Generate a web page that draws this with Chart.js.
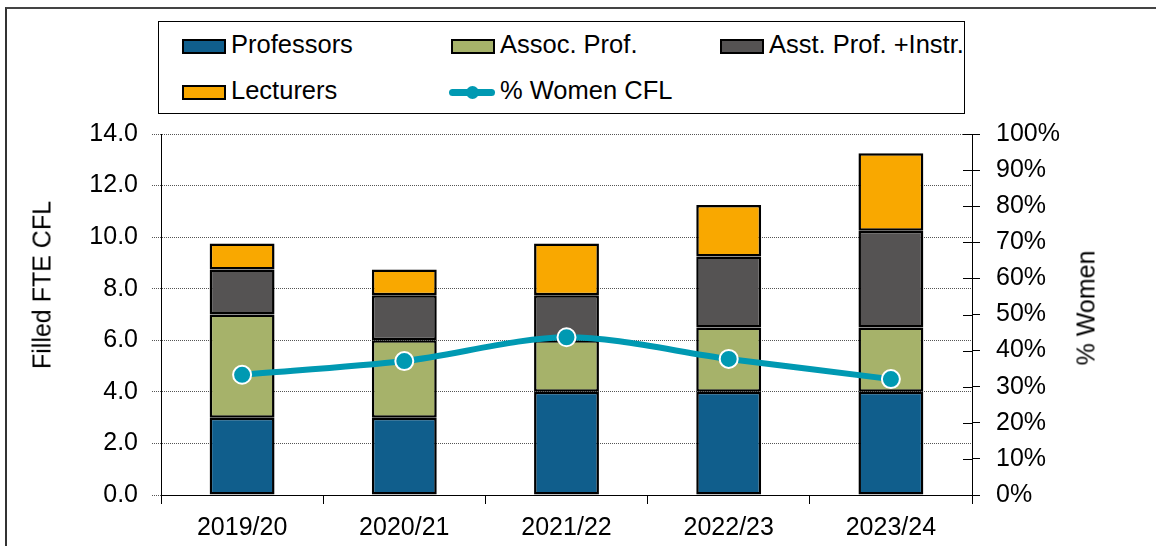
<!DOCTYPE html>
<html>
<head>
<meta charset="utf-8">
<script src="https://cdn.jsdelivr.net/npm/chart.js@4.4.1/dist/chart.umd.min.js"></script>
<style>
  html, body { margin: 0; padding: 0; background: #fff; }
  #wrap { position: relative; width: 1156px; height: 546px; overflow: hidden; font-family: "Liberation Sans", Arial, sans-serif; color: #000; }
  #frame { position: absolute; left: 5px; top: 7px; right: -10px; bottom: -10px; border-left: 2px solid #333; border-top: 2px solid #444; }
  canvas { position: absolute; left: 0; top: 0; }
  #legend { position: absolute; left: 158px; top: 21px; width: 805px; height: 91px; border: 1.5px solid #000; background: #fff; }
  .lg-sw { position: absolute; width: 40px; height: 11px; border: 2px solid #000; }
  .lg-txt { position: absolute; font-size: 25.5px; line-height: 25px; white-space: nowrap; }
  .lg-line { position: absolute; width: 46px; height: 7px; border-radius: 4px; }
  .lg-dot { position: absolute; width: 13px; height: 13px; border-radius: 50%; }
  .ytitle { position: absolute; font-size: 25px; line-height: 25px; white-space: nowrap; transform: translate(-50%, -50%) rotate(-90deg); }
</style>
</head>
<body>
<div id="wrap">
  <div id="frame"></div>
  <canvas id="c" width="1156" height="546"></canvas>
  <div id="legend"></div>
  <div class="ytitle" id="tLeft" style="left:42px; top:285px;">Filled FTE CFL</div>
  <div class="ytitle" id="tRight" style="left:1086px; top:308px;">% Women</div>
</div>
<script>
// ---- data ----
const categories = ['2019/20', '2020/21', '2021/22', '2022/23', '2023/24'];
const professors = [3, 3, 4, 4, 4];
const assocProf  = [4, 3, 2, 2.5, 2.5];
const asstProf   = [1.75, 1.75, 1.75, 2.75, 3.75];
const lecturers  = [1, 1, 2, 2, 3];
const pctWomen   = [33.3, 37.1, 43.7, 37.7, 32.1];

const seriesNames = ['Professors', 'Assoc. Prof.', 'Asst. Prof. +Instr.', 'Lecturers', '% Women CFL'];
const seriesColors = ['#105E8C', '#A6B26A', '#555353', '#F9A800', '#0099B2'];

const leftMin = 0, leftMax = 14, leftStep = 2;
const rightMin = 0, rightMax = 100, rightStep = 10;

const FONT = '"Liberation Sans", Arial, sans-serif';

function barDs(i, data) {
  return {
    type: 'bar', label: seriesNames[i], data: data,
    backgroundColor: seriesColors[i], borderColor: '#000', borderWidth: 2.5,
    borderSkipped: false, yAxisID: 'y', order: 1, stack: 's',
    categoryPercentage: 1.0, barPercentage: 0.4
  };
}

const rightInnerTicks = {
  id: 'rightInnerTicks',
  afterDraw(chart) {
    const s = chart.scales.y1;
    const ctx = chart.ctx;
    ctx.save();
    ctx.strokeStyle = '#000';
    ctx.lineWidth = 1;
    s.ticks.forEach(t => {
      const y = Math.round(s.getPixelForValue(t.value)) + 0.5;
      ctx.beginPath();
      ctx.moveTo(s.left - 9, y);
      ctx.lineTo(s.left, y);
      ctx.stroke();
    });
    ctx.restore();
  }
};

const chart = new Chart(document.getElementById('c'), {
  data: {
    labels: categories,
    datasets: [
      barDs(0, professors),
      barDs(1, assocProf),
      barDs(2, asstProf),
      barDs(3, lecturers),
      {
        type: 'line', label: seriesNames[4], data: pctWomen, yAxisID: 'y1', order: 0,
        borderColor: seriesColors[4], backgroundColor: seriesColors[4], borderWidth: 6,
        pointRadius: 9, pointBorderColor: '#fff', pointBorderWidth: 2,
        pointBackgroundColor: seriesColors[4], tension: 0.3, fill: false
      }
    ]
  },
  options: {
    responsive: false,
    animation: false,
    devicePixelRatio: 1,
    layout: { padding: { top: 134, left: 0, right: 0, bottom: 0 } },
    plugins: { legend: { display: false }, tooltip: { enabled: false } },
    scales: {
      x: {
        stacked: true,
        offset: true,
        afterFit: s => { s.height = 51; },
        grid: { display: true, drawOnChartArea: false, drawTicks: true, tickLength: 9, color: '#000', offset: true },
        border: { display: true, color: '#000', width: 1 },
        ticks: { color: '#000', font: { family: FONT, size: 25 }, padding: 9, maxRotation: 0 }
      },
      y: {
        position: 'left', stacked: true, min: leftMin, max: leftMax,
        afterFit: s => { s.width = 161; },
        grid: { color: '#555', tickLength: 9, drawTicks: true, tickBorderDash: [1, 1] },
        border: { display: true, color: '#000', width: 1, dash: [1, 1] },
        ticks: { stepSize: leftStep, color: '#000', padding: 14, font: { family: FONT, size: 25 },
                 callback: v => Number(v).toFixed(1) }
      },
      y1: {
        position: 'right', min: rightMin, max: rightMax,
        afterFit: s => { s.width = 184; },
        grid: { display: true, drawOnChartArea: false, drawTicks: true, tickLength: 8, color: '#000' },
        border: { display: true, color: '#000', width: 1 },
        ticks: { stepSize: rightStep, color: '#000', padding: 16, font: { family: FONT, size: 25 },
                 callback: v => v + '%' }
      }
    }
  },
  plugins: [rightInnerTicks]
});

// ---- HTML legend built from the datasets ----
(function buildLegend() {
  const lg = document.getElementById('legend');
  const colX = [23, 292, 561];   // relative to legend box
  const rowY = [24, 70];          // swatch centre (relative)
  chart.data.datasets.forEach((ds, i) => {
    const col = i % 3, row = Math.floor(i / 3);
    const x = colX[col], cy = rowY[row];
    if (ds.type === 'bar') {
      const sw = document.createElement('div');
      sw.className = 'lg-sw';
      sw.style.left = x + 'px';
      sw.style.top = (cy - 7.5) + 'px';
      sw.style.background = ds.backgroundColor;
      lg.appendChild(sw);
    } else {
      const ln = document.createElement('div');
      ln.className = 'lg-line';
      ln.style.left = (x - 2) + 'px';
      ln.style.top = (cy - 3.5) + 'px';
      ln.style.background = ds.borderColor;
      lg.appendChild(ln);
      const dot = document.createElement('div');
      dot.className = 'lg-dot';
      dot.style.left = (x - 2 + 23 - 6.5) + 'px';
      dot.style.top = (cy - 6.5) + 'px';
      dot.style.background = ds.borderColor;
      lg.appendChild(dot);
    }
    const tx = document.createElement('div');
    tx.className = 'lg-txt';
    tx.style.left = (x + 49) + 'px';
    tx.style.top = (cy - 14) + 'px';
    tx.textContent = ds.label;
    lg.appendChild(tx);
  });
})();
</script>
</body>
</html>
